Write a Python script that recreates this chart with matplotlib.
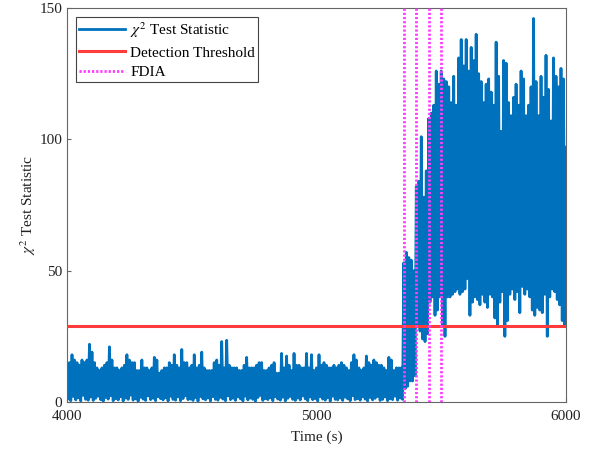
import numpy as np
import matplotlib
matplotlib.use("Agg")
import matplotlib.pyplot as plt

plt.rcParams['font.family'] = ['Liberation Serif', 'DejaVu Serif']
plt.rcParams['mathtext.fontset'] = 'stix'

# ---- data ----
t_start = 4000
bin_width = 10  # seconds per envelope bin

# per-bin maxima of the chi^2 statistic
peaks_normal = [11, 15, 18, 16, 15, 14, 16, 15, 16, 22,
                19, 15, 13, 12, 13, 14, 15, 21, 16, 13,
                13, 12, 13, 14, 18, 16, 15, 15, 12, 12,
                16, 13, 13, 12, 13, 17, 16, 11, 12, 13,
                13, 15, 14, 18, 14, 13, 20, 15, 15, 13,
                14, 18, 13, 14, 19, 13, 12, 12, 12, 15,
                16, 14, 23, 13, 23.5, 14, 13, 13, 13, 12,
                12, 14, 17, 13, 13, 13, 14, 15, 15, 12,
                12, 13, 14, 15, 11, 11, 18.5, 13, 17.5, 14,
                12, 18.5, 14, 14, 13, 13, 18.5, 13, 18, 12,
                13, 18, 14, 15, 14, 13, 13, 14, 13, 14,
                15, 14, 13, 12, 15, 18, 16, 13, 12, 13,
                17.5, 15, 14, 16, 15, 14, 14, 13, 12, 17,
                16, 12, 13, 13, 13]
peaks_attack = [53, 57, 55, 54, 50,
                82, 84, 101, 78, 88,
                108, 110, 113, 126, 121]
peaks_after = [126, 123, 122, 120, 114, 124, 113, 131, 138, 128,
               138, 126, 135, 130, 140, 125, 122, 114, 121, 123,
               118, 113, 137, 124, 103, 130, 129, 114, 109, 116,
               121, 113, 126, 123, 109, 113, 120, 146, 122, 109,
               124, 116, 132, 119, 107, 131, 124, 120, 127, 123, 97]

# per-bin minima of the chi^2 statistic
troughs_normal = [1.2, 0.5, 2.1, 0.8, 1.6, 0.4, 2.5, 1.0, 0.7, 1.9,
                  0.6, 1.4, 2.2, 0.9, 0.3, 1.7, 1.1, 2.4, 0.5, 1.3,
                  0.8, 2.0, 0.4, 1.5, 1.0, 2.6, 0.7, 1.2, 0.3, 1.8,
                  1.1, 0.6, 2.3, 0.9, 1.4, 0.5, 2.0, 1.3, 0.8, 1.6,
                  0.4, 2.2, 1.0, 0.7, 1.9, 0.5, 1.3, 2.4, 0.9, 1.1,
                  0.6, 1.7, 0.3, 2.1, 1.2, 0.8, 1.5, 0.4, 2.0, 1.0,
                  0.7, 1.8, 1.1, 0.5, 2.3, 0.9, 1.4, 0.6, 1.9, 1.2,
                  0.4, 2.2, 0.8, 1.5, 1.0, 0.3, 1.7, 2.5, 0.6, 1.3,
                  0.9, 1.6, 0.5, 2.0, 1.1, 0.7, 1.8, 0.4, 1.4, 2.1,
                  1.0, 0.6, 1.5, 0.8, 2.3, 1.2, 0.5, 1.9, 0.9, 1.3,
                  0.4, 2.0, 1.1, 0.7, 1.6, 0.3, 2.2, 1.0, 0.8, 1.5,
                  0.6, 1.8, 1.2, 0.5, 2.4, 0.9, 1.3, 0.7, 2.0, 1.1,
                  0.4, 1.7, 0.8, 1.4, 2.1, 0.6, 1.0, 1.9, 0.5, 1.2,
                  0.9, 2.2, 0.7, 1.5, 1.0]
troughs_attack = [5, 6, 8, 8, 10,
                  29, 27, 24, 23, 26,
                  38, 40, 33, 35, 40]
troughs_after = [29, 25, 40, 40, 41, 42, 43, 41, 42, 43,
                 47, 33, 38, 40, 39, 37, 41, 38, 36, 41,
                 40, 32, 29, 38, 42, 25, 31, 41, 43, 39,
                 42, 34, 44, 41, 43, 40, 35, 33, 36, 35,
                 34, 41, 25, 40, 43, 42, 39, 37, 31, 29]

threshold = 28.9
fdia_times = [5350, 5400, 5450, 5500]
x_ticks = [4000, 5000, 6000]
y_ticks = [0, 50, 100, 150]

# ---- build series (interleave per-bin max / min samples) ----
peaks = np.array(peaks_normal + peaks_attack + peaks_after, dtype=float)
troughs = np.array(troughs_normal + troughs_attack + troughs_after, dtype=float)
n = len(troughs)
t = np.empty(2 * n + 1)
y = np.empty(2 * n + 1)
t[0::2] = t_start + bin_width * np.arange(n + 1)
t[1::2] = t_start + bin_width * np.arange(n) + bin_width / 2
y[0::2] = peaks
y[1::2] = troughs

# ---- plot ----
fig = plt.figure(figsize=(6.0, 4.51), dpi=100)
ax = fig.add_axes([0.1117, 0.1086, 0.8316, 0.8737])

blue = '#0072BD'
red = '#FF3B3B'
magenta = '#FF3CFF'

ax.plot(t, y, color=blue, lw=2.0, label=r'$\chi^2$ Test Statistic', zorder=2)
ax.axhline(threshold, color=red, lw=2.2, label='Detection Threshold', zorder=3)
for i, ft in enumerate(fdia_times):
    ax.axvline(ft, color=magenta, lw=2.0, ls=(0, (0.8, 0.7)),
               label='FDIA' if i == 0 else None, zorder=4)

ax.set_xlim(4000, 6000)
ax.set_ylim(0, 150)
ax.set_xticks(x_ticks)
ax.set_yticks(y_ticks)
ax.tick_params(direction='in', length=3, labelsize=11)
ax.tick_params(axis='x', pad=6)
for sp in ax.spines.values():
    sp.set_color('#666666')
    sp.set_linewidth(0.8)
ax.tick_params(axis='both', colors='#666666', labelcolor='#222222')

ax.set_xlabel('Time (s)', fontsize=11, color='#222222', labelpad=5)
ax.set_ylabel(r'$\chi^2$ Test Statistic', fontsize=11, color='#222222', labelpad=1)

leg = ax.legend(loc='upper left', fontsize=11, fancybox=False, framealpha=1,
                edgecolor='#444444', handlelength=3.0, borderpad=0.2,
                labelspacing=0.4, handletextpad=0.35, borderaxespad=0.6)
leg.get_frame().set_linewidth(0.8)

fig.savefig('out.png', dpi=100)
